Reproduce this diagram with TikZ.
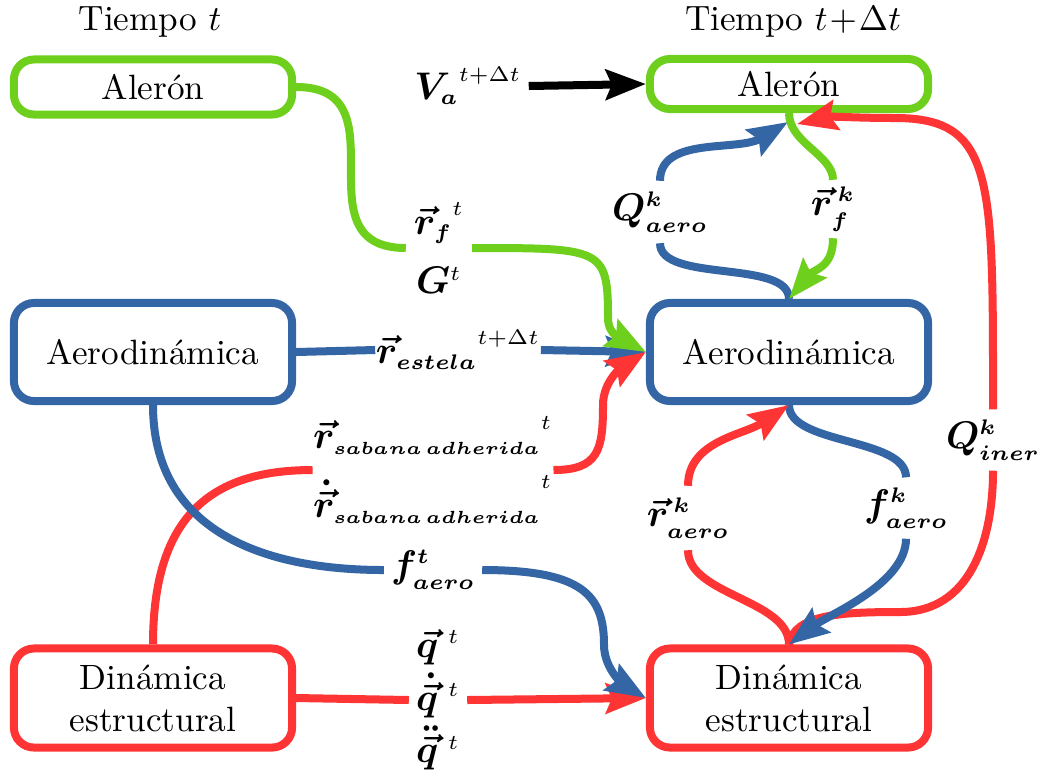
\documentclass[tikz,border=0pt]{standalone}
\usepackage{amsmath,amssymb}
\usepackage{tikz}
\usetikzlibrary{arrows.meta,calc}

\definecolor{verde}{RGB}{110,208,28}
\definecolor{azul}{RGB}{52,101,165}
\definecolor{rojo}{RGB}{255,52,52}
\DeclareMathSizes{10.95}{10.95}{6}{5}
\newcommand{\tsup}[1]{\mbox{\unboldmath$\scriptstyle#1$}}

\begin{document}
\begin{tikzpicture}[x=0.01cm,y=-0.01cm,>={Stealth[length=0.4cm,width=0.3cm,inset=0.06cm]},
 bloque/.style={draw,line width=0.08cm,rounded corners=0.2cm,minimum width=2.78cm,align=center,inner sep=0pt},
 etiq/.style={inner sep=0pt,font=\fontsize{10.95}{13}\selectfont\boldmath,align=center},
 flujo/.style={line width=0.08cm}]
 \useasboundingbox (0,0) rectangle (1040,778);

 \node (tt1) at (150,22) {Tiempo $t$};
 \node (tt2) at (793,22) {Tiempo $t\!+\!\Delta t$};

 \node[bloque,draw=verde,minimum height=0.55cm] (alL) at (153,87) {Aler\'on};
 \node[bloque,draw=verde,minimum height=0.50cm] (alR) at (789,84) {Aler\'on};
 \node[bloque,draw=azul,minimum height=0.98cm] (aeL) at (153,352) {Aerodin\'amica};
 \node[bloque,draw=azul,minimum height=0.98cm] (aeR) at (789,352) {Aerodin\'amica};
 \node[bloque,draw=rojo,minimum height=0.99cm] (dnL) at (153,698) {Din\'amica\\estructural};
 \node[bloque,draw=rojo,minimum height=0.99cm] (dnR) at (789,698) {Din\'amica\\estructural};

 \node[etiq,minimum width=1.2cm] (lva) at (468,86) {${{}V_{a}}^{\tsup{t+\Delta t}}$};
 \node[etiq,minimum width=0.65cm] (lrf) at (439,248) {${{}\vec{r}_{f}}^{\tsup{t}}$\\[4pt]$G^{\tsup{t}}$};
 \node[etiq,minimum width=1.57cm] (lre) at (458,350) {${{}\vec{r}_{estela}}^{\tsup{t+\Delta t}}$};
 \node[etiq,minimum width=2.33cm] (lsab) at (433,470) {${{}\vec{r}_{\scriptscriptstyle sabana\,adherida}}^{\tsup{t}}$\\[5pt]${{}\dot{\vec{r}}_{\scriptscriptstyle sabana\,adherida}}^{\tsup{t}}$};
 \node[etiq,minimum width=0.97cm] (lfa) at (433,570) {$f^{t}_{aero}$};
 \node[etiq,minimum width=0.57cm] (lq) at (438,700) {$\vec{q}^{\,\tsup{\,t}}$\\[2pt]$\dot{\vec{q}}^{\,\tsup{\,t}}$\\[2pt]$\ddot{\vec{q}}^{\,\tsup{\,t}}$};
 \node[etiq,minimum height=0.61cm] (lQa) at (660,212) {$Q^{k}_{aero}$};
 \node[etiq,minimum height=0.57cm] (lrk) at (833,209) {$\vec{r}^{\,k}_{f}$};
 \node[etiq,minimum height=0.60cm] (lQi) at (993,440) {$Q^{k}_{iner}$};
 \node[etiq,minimum height=0.63cm] (lra) at (688,518) {$\vec{r}^{\,k}_{aero}$};
 \node[etiq,minimum height=0.60cm] (lfk) at (906,508) {$f^{k}_{aero}$};

 \coordinate (tipA) at ($(alR.south)+(-1,9)$);
 \coordinate (tipB) at ($(alR.south)+(8,11)$);

 \draw[flujo,->] (lva.east) -- (alR.west);

 \draw[flujo,azul] (aeL.east) -- (lre.west);
 \draw[flujo,azul,->] (lre.east) -- (aeR.west);
 \draw[flujo,verde] (alL.east) .. controls +(110,0) and +(-110,0) .. (lrf.west);
 \draw[flujo,verde,->] (lrf.east) .. controls +(130,0) and +(0,-70) .. (608,318) .. controls +(0,18) and +(-22,-12) .. (aeR.west);
 \draw[flujo,rojo] (dnL.north) .. controls +(0,-130) and +(-100,0) .. (lsab.west);
 \draw[flujo,rojo,->] (lsab.east) .. controls +(45,0) and +(0,45) .. (603,405) .. controls +(0,-25) and +(-22,14) .. (aeR.west);
 \draw[flujo,azul] (aeL.south) .. controls +(0,120) and +(-130,0) .. (lfa.west);
 \draw[flujo,rojo] (dnL.east) -- (lq.west);
 \draw[flujo,rojo,->] (lq.east) -- (dnR.west);
 \draw[flujo,azul,->] (lfa.east) .. controls +(100,0) and +(0,-50) .. (604,645) .. controls +(0,25) and +(-20,-12) .. (dnR.west);

 \draw[flujo,azul] (aeR.north) .. controls +(0,-40) and +(0,40) .. (lQa.south);
 \draw[flujo,azul,->] (lQa.north) .. controls +(0,-45) and +(-50,30) .. (tipA);
 \draw[flujo,verde] (alR.south) .. controls +(0,30) and +(0,-25) .. (lrk.north);
 \draw[flujo,verde,->] (lrk.south) .. controls +(0,30) and +(25,-30) .. (aeR.north);
 \draw[flujo,azul] (aeR.south) .. controls +(0,40) and +(0,-40) .. (lfk.north);
 \draw[flujo,rojo] (dnR.north) .. controls +(0,-45) and +(0,45) .. (lra.south);
 \draw[flujo,rojo,->] (lra.north) .. controls +(0,-45) and +(-45,30) .. (aeR.south);
 \draw[flujo,rojo] (dnR.north) .. controls +(5,-30) and +(-60,0) .. (900,612) .. controls +(70,0) and +(0,70) .. (lQi.south);
 \draw[flujo,rojo,->] (lQi.north) .. controls +(0,-230) and +(100,0) .. (895,118) .. controls +(-40,0) and +(35,-8) .. (tipB);
 \draw[flujo,azul,->] (lfk.south) .. controls +(0,45) and +(40,-30) .. (dnR.north);
\end{tikzpicture}
\end{document}
